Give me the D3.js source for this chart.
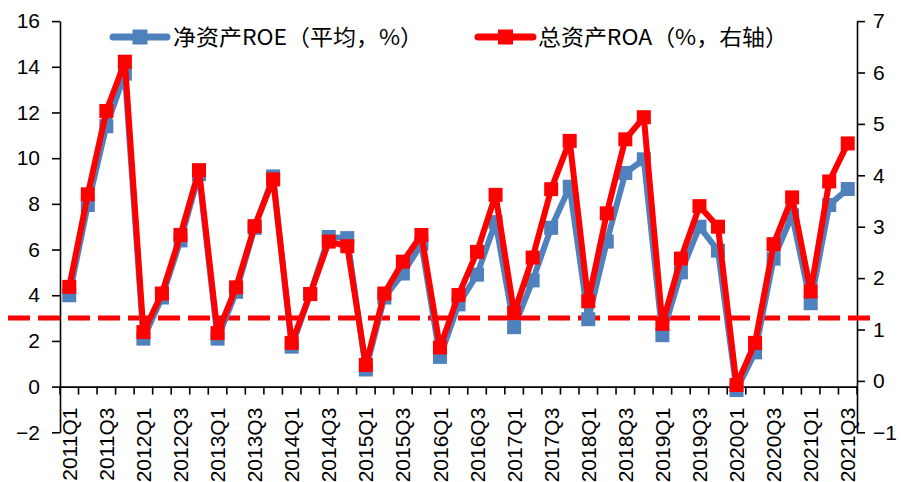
<!DOCTYPE html>
<html>
<head>
<meta charset="utf-8">
<script src="https://cdn.jsdelivr.net/npm/d3@7"></script>
<style>
  html, body { margin: 0; padding: 0; background: #fff; }
  svg { display: block; }
</style>
</head>
<body>
<svg id="chart" width="901" height="482"></svg>
<script>
// Quarter labels, 2011Q1 .. 2021Q3
const quarters = [];
for (let y = 2011; y <= 2021; y++) {
  for (let q = 1; q <= 4; q++) {
    if (y === 2021 && q > 3) break;
    quarters.push(y + "Q" + q);
  }
}

// 净资产ROE（平均，%）— left axis
const roe = [4.0, 7.95, 11.4, 13.7, 2.1, 3.9, 6.4, 9.3, 2.1, 4.15, 6.95, 9.2,
             1.75, 4.05, 6.55, 6.5, 0.75, 3.9, 4.95, 6.25, 1.3, 3.6, 4.9, 7.2,
             2.6, 4.65, 6.95, 8.75, 2.95, 6.35, 9.35, 9.95, 2.25, 5.0, 7.0, 5.95,
             -0.15, 1.5, 5.6, 7.5, 3.65, 7.95, 8.65];

// 总资产ROA（%，右轴）— right axis
const roa = [1.83, 3.63, 5.25, 6.21, 0.95, 1.7, 2.84, 4.1, 0.93, 1.82, 3.01, 3.92,
             0.74, 1.69, 2.71, 2.62, 0.31, 1.7, 2.32, 2.84, 0.65, 1.67, 2.51, 3.62,
             1.32, 2.4, 3.73, 4.67, 1.55, 3.26, 4.7, 5.13, 1.11, 2.38, 3.4, 3.0,
             -0.08, 0.74, 2.66, 3.57, 1.74, 3.88, 4.62];

const leftTicks = [-2, 0, 2, 4, 6, 8, 10, 12, 14, 16];
const rightTicks = [-1, 0, 1, 2, 3, 4, 5, 6, 7];
const refLevel = 3;   // dashed reference line, left-axis units

const seriesNames = ["净资产ROE（平均，%）", "总资产ROA（%，右轴）"];

const BLUE = "#4F81BD", RED = "#FF0000";
const svg = d3.select("#chart");
const tickFont = "'Liberation Sans', Arial, sans-serif";

const x = d3.scaleBand().domain(quarters).range([60, 857]);
const yL = d3.scaleLinear().domain([-2, 16]).range([432.3, 21.1]);
const yR = d3.scaleLinear().domain([-1, 7]).range([432.3, 21.1]);
const cx = d => x(d) + x.bandwidth() / 2;

// Left axis
const gL = svg.append("g").attr("transform", "translate(60,0)")
  .call(d3.axisLeft(yL).tickValues(leftTicks).tickSize(8).tickSizeOuter(0).tickPadding(12));
// Right axis
const gR = svg.append("g").attr("transform", "translate(857,0)")
  .call(d3.axisRight(yR).tickValues(rightTicks).tickSize(8).tickSizeOuter(0).tickPadding(8));
[gL, gR].forEach(g => {
  g.select(".domain").attr("stroke", "#000").attr("stroke-width", 1.6);
  g.selectAll(".tick line").attr("stroke", "#000").attr("stroke-width", 1.6);
  g.selectAll(".tick text").attr("fill", "#000")
    .style("font-family", tickFont).style("font-size", "21px");
});

// Category axis at left-axis zero
const y0 = yL(0);
const gX = svg.append("g").attr("transform", `translate(0,${y0})`)
  .call(d3.axisBottom(x).tickValues(quarters.filter((d, i) => i % 2 === 0))
        .tickSize(0).tickSizeOuter(0));
gX.select(".domain").attr("stroke", "#000").attr("stroke-width", 1.6);
gX.selectAll(".tick text")
  .attr("fill", "#000")
  .style("font-family", tickFont).style("font-size", "21px")
  .attr("text-anchor", "end")
  .attr("dy", "0.36em")
  .attr("transform", "translate(0,21) rotate(-90)")
  .attr("x", 0).attr("y", 0);
// boundary ticks between quarters
const edges = quarters.map(d => x(d)).concat([x.range()[1]]);
svg.append("g").selectAll("line").data(edges).join("line")
  .attr("x1", d => d).attr("x2", d => d)
  .attr("y1", y0).attr("y2", y0 + 8)
  .attr("stroke", "#000").attr("stroke-width", 1.6);

// Dashed reference line
svg.append("line")
  .attr("x1", 8).attr("x2", 870)
  .attr("y1", yL(refLevel)).attr("y2", yL(refLevel))
  .attr("stroke", RED).attr("stroke-width", 5)
  .attr("stroke-dasharray", "22 8");

// Series
function drawSeries(values, yScale, color) {
  const pts = quarters.map((q, i) => [cx(q), yScale(values[i])]);
  svg.append("path")
    .attr("d", d3.line()(pts))
    .attr("fill", "none").attr("stroke", color)
    .attr("stroke-width", 6).attr("stroke-linejoin", "round");
  svg.append("g").selectAll("rect").data(pts).join("rect")
    .attr("x", d => d[0] - 7).attr("y", d => d[1] - 7)
    .attr("width", 14).attr("height", 14).attr("fill", color);
}
drawSeries(roe, yL, BLUE);
drawSeries(roa, yR, RED);

// Legend
const legend = [
  { name: seriesNames[0], color: BLUE, x1: 113, x2: 167, tx: 173 },
  { name: seriesNames[1], color: RED, x1: 478, x2: 533, tx: 538 }
];
const lg = svg.append("g").selectAll("g").data(legend).join("g");
lg.append("line")
  .attr("x1", d => d.x1).attr("x2", d => d.x2).attr("y1", 37).attr("y2", 37)
  .attr("stroke", d => d.color).attr("stroke-width", 7).attr("stroke-linecap", "round");
lg.append("rect")
  .attr("x", d => (d.x1 + d.x2) / 2 - 7.5).attr("y", 37 - 7.5)
  .attr("width", 15).attr("height", 15).attr("fill", d => d.color);
lg.append("text")
  .attr("x", d => d.tx).attr("y", 37).attr("dy", "0.36em")
  .attr("textLength", 250).attr("lengthAdjust", "spacingAndGlyphs")
  .style("font-family", "'Noto Sans CJK SC', sans-serif")
  .style("font-size", "22px").attr("fill", "#000")
  .text(d => d.name);
</script>
</body>
</html>
